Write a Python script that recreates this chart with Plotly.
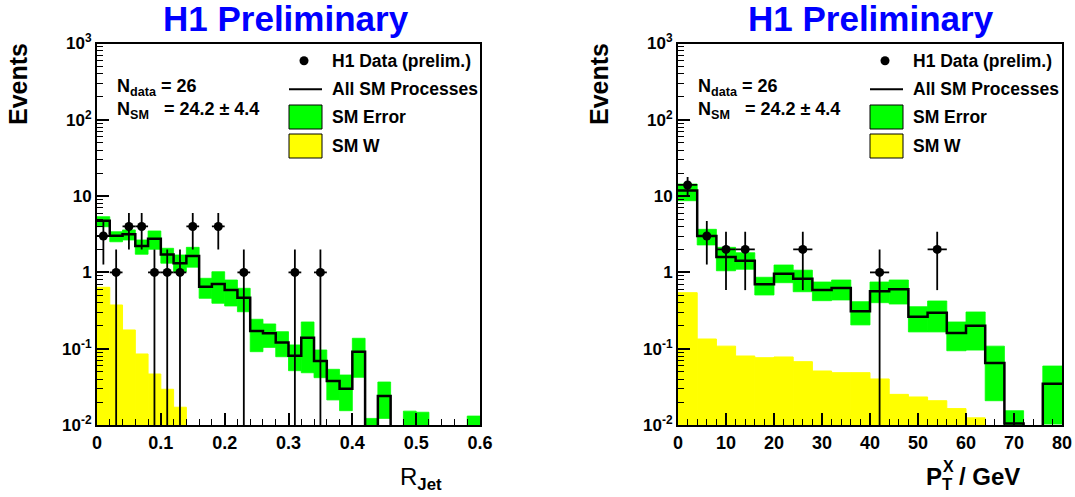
import math
import plotly.graph_objects as go

W, H = 1075, 497
FLOOR = 1e-4
FONT = "Liberation Sans"

# ---------------- Left panel: R_Jet ----------------
rjet_bin_width = 0.02
rjet_nbins = 30
rjet_sm = [4.76, 3.03, 3.16, 2.22, 2.77, 1.71, 1.32, 1.64, 0.65, 0.705,
           0.588, 0.466, 0.171, 0.159, 0.121, 0.081, 0.139, 0.069, 0.0378, 0.0299,
           0.0914, 0.004, 0.024, 0, 0.004, 0.004, 0, 0, 0, 0.004]
rjet_err_lo = [3.97, 2.52, 2.66, 1.73, 2.01, 1.32, 1.02, 1.17, 0.458, 0.394,
               0.363, 0.305, 0.0914, 0.104, 0.0785, 0.0515, 0.0484, 0.0417, 0.0213, 0.0154,
               0.0422, 0, 0.0122, 0, 0, 0, 0, 0, 0, 0]
rjet_err_hi = [5.37, 3.41, 3.6, 2.66, 3.49, 2.07, 1.69, 2.13, 0.837, 1.02,
               0.795, 0.619, 0.243, 0.211, 0.167, 0.112, 0.224, 0.0962, 0.0537, 0.0452,
               0.137, 0.0122, 0.0366, 0, 0.0152, 0.0147, 0, 0, 0, 0.0131]
rjet_w = [0.638, 0.374, 0.176, 0.0853, 0.0466, 0.0294, 0.0171, 0, 0, 0,
          0, 0, 0, 0, 0, 0, 0, 0, 0, 0,
          0, 0, 0, 0, 0, 0, 0, 0, 0, 0]
rjet_data_x = [0.01, 0.03, 0.05, 0.07, 0.09, 0.11, 0.13, 0.15, 0.19, 0.23, 0.31, 0.35]
rjet_data_n = [3, 1, 4, 4, 1, 1, 1, 4, 4, 1, 1, 1]
rjet_ticks = [0, 0.1, 0.2, 0.3, 0.4, 0.5, 0.6]

# ---------------- Right panel: PT^X ----------------
pt_bin_width = 4
pt_nbins = 20
pt_sm = [11.8, 3.0, 1.59, 1.42, 0.698, 0.962, 0.827, 0.588, 0.625, 0.309,
         0.565, 0.6, 0.262, 0.296, 0.161, 0.2, 0.065, 0.0105, 0, 0.0348]
pt_err_lo = [8.7, 2.29, 1.05, 1.1, 0.506, 0.733, 0.558, 0.426, 0.435, 0.205,
             0.401, 0.385, 0.166, 0.166, 0.094, 0.096, 0.0208, 0, 0, 0.0103]
pt_err_hi = [14.4, 3.67, 2.13, 1.81, 0.863, 1.25, 1.07, 0.748, 0.795, 0.413,
             0.748, 0.795, 0.355, 0.422, 0.224, 0.303, 0.108, 0.0154, 0, 0.0593]
pt_w = [0.542, 0.134, 0.108, 0.0802, 0.0762, 0.0779, 0.0676, 0.051, 0.0485, 0.0485,
        0.0401, 0.0252, 0.0233, 0.0208, 0.0164, 0.0124, 0, 0, 0, 0]
pt_data_x = [2, 6, 10, 14, 26, 42, 54]
pt_data_n = [14, 3, 2, 2, 2, 1, 2]
pt_ticks = [0, 10, 20, 30, 40, 50, 60, 70, 80]

y_tickvals = [0.01, 0.1, 1, 10, 100, 1000]
y_ticktext = ["10<sup>-2</sup>", "10<sup>-1</sup>", "1", "10", "10<sup>2</sup>", "10<sup>3</sup>"]
y_minor = [m * 10.0 ** e for e in range(-2, 3) for m in range(2, 10)]

title_text = "H1 Preliminary"
legend_labels = ["H1 Data (prelim.)", "All SM Processes", "SM Error", "SM W"]
ndata_text = "N<sub>data</sub> = 26"
nsm_text = "N<sub>SM</sub>\u00a0\u00a0\u00a0= 24.2 \u00b1 4.4"


def px(x):
    return x / W


def py(y):
    return 1 - y / H


fig = go.Figure()


def add_panel(xa, ya, nbins, bw, sm, lo, hi, wv, dx, dn):
    edges = [round(i * bw, 6) for i in range(nbins + 1)]
    centers = [(edges[i] + edges[i + 1]) / 2 for i in range(nbins)]
    # SM W (yellow)
    yx = [c for c, v in zip(centers, wv) if v > 0]
    yv = [v for v in wv if v > 0]
    fig.add_trace(go.Bar(x=yx, y=[v - 1e-3 for v in yv], base=[1e-3] * len(yv), width=bw,
                         marker=dict(color="#ffff00", line=dict(width=1, color="#ffff00")),
                         xaxis=xa, yaxis=ya, showlegend=False, hoverinfo="skip"))
    # SM error band (green)
    gx, gb, gy = [], [], []
    for c, l, h in zip(centers, lo, hi):
        if h > 0:
            b = max(l, 1e-3)
            gx.append(c)
            gb.append(b)
            gy.append(h - b)
    fig.add_trace(go.Bar(x=gx, y=gy, base=gb, width=bw,
                         marker=dict(color="#00ff00", line=dict(width=0.8, color="#00ff00")),
                         xaxis=xa, yaxis=ya, showlegend=False, hoverinfo="skip"))
    # All SM line
    ys = [v if v > 0 else FLOOR for v in sm]
    fig.add_trace(go.Scatter(x=edges, y=ys + [ys[-1]], mode="lines",
                             line=dict(color="black", width=2.5, shape="hv"),
                             xaxis=xa, yaxis=ya, showlegend=False, hoverinfo="skip"))
    # Data
    eu = [math.sqrt(n) for n in dn]
    ed = [min(math.sqrt(n), n - FLOOR) for n in dn]
    fig.add_trace(go.Scatter(x=dx, y=dn, mode="markers",
                             marker=dict(color="black", size=9),
                             error_y=dict(type="data", symmetric=False, array=eu, arrayminus=ed,
                                          color="black", thickness=1.8, width=0),
                             error_x=dict(type="constant", value=bw / 2, color="black",
                                          thickness=1.8, width=0),
                             xaxis=xa, yaxis=ya, showlegend=False))


add_panel("x", "y", rjet_nbins, rjet_bin_width, rjet_sm, rjet_err_lo, rjet_err_hi,
          rjet_w, rjet_data_x, rjet_data_n)
add_panel("x2", "y2", pt_nbins, pt_bin_width, pt_sm, pt_err_lo, pt_err_hi,
          pt_w, pt_data_x, pt_data_n)

common = dict(showline=True, linecolor="black", linewidth=2, mirror=True,
              ticks="inside", ticklen=12, tickwidth=1.5, tickcolor="black",
              showgrid=False, zeroline=False, automargin=False)
xfont = dict(family=FONT, size=18, color="black", weight="bold")
yfont = dict(family=FONT, size=17, color="black", weight="bold")

ydom = [py(425), py(43.5)]
fig.update_layout(
    width=W, height=H, margin=dict(l=0, r=0, t=0, b=0, pad=0, autoexpand=False),
    paper_bgcolor="white", plot_bgcolor="white", barmode="overlay",
    showlegend=False,
    xaxis=dict(domain=[px(97), px(480)], range=[0, 0.6], anchor="y",
               tickmode="array", tickvals=rjet_ticks, tickfont=xfont,
               minor=dict(tickmode="linear", tick0=0, dtick=0.02, ticks="inside",
                          ticklen=6, tickcolor="black", tickwidth=1.2), **common),
    yaxis=dict(domain=ydom, type="log", range=[-2, 3], anchor="x",
               tickmode="array", tickvals=y_tickvals, ticktext=y_ticktext, tickfont=yfont,
               minor=dict(tickmode="array", tickvals=y_minor, ticks="inside",
                          ticklen=6, tickcolor="black", tickwidth=1.2), **common),
    xaxis2=dict(domain=[px(678), px(1062)], range=[0, 80], anchor="y2",
                tickmode="array", tickvals=pt_ticks, tickfont=xfont,
                minor=dict(tickmode="linear", tick0=0, dtick=2, ticks="inside",
                           ticklen=6, tickcolor="black", tickwidth=1.2), **common),
    yaxis2=dict(domain=ydom, type="log", range=[-2, 3], anchor="x2",
                tickmode="array", tickvals=y_tickvals, ticktext=y_ticktext, tickfont=yfont,
                minor=dict(tickmode="array", tickvals=y_minor, ticks="inside",
                           ticklen=6, tickcolor="black", tickwidth=1.2), **common),
)

annotations = []
shapes = []


def ann(x, y, text, size, xanchor="left", yanchor="middle", bold=True, color="black", angle=0):
    annotations.append(dict(xref="paper", yref="paper", x=px(x), y=py(y), text=text,
                            showarrow=False, xanchor=xanchor, yanchor=yanchor, textangle=angle,
                            font=dict(family=FONT, size=size, color=color,
                                      weight="bold" if bold else "normal")))


for ox in (0, 581):
    # titles
    ann(286 + ox * 1.007, 18, title_text, 35, xanchor="center", color="#0000ff")
    # y title
    ann(18 + ox, 84, "Events", 25, xanchor="center", angle=-90)
    # N text
    ann(115 + ox, 87, ndata_text, 18)
    ann(115 + ox, 110, nsm_text, 18)
    # legend
    shapes.append(dict(type="circle", xref="paper", yref="paper",
                       x0=px(299.5 + ox), x1=px(308.5 + ox), y0=py(65.2), y1=py(56.2),
                       fillcolor="black", line=dict(width=0)))
    shapes.append(dict(type="line", xref="paper", yref="paper",
                       x0=px(289 + ox), x1=px(322 + ox), y0=py(89.3), y1=py(89.3),
                       line=dict(color="black", width=2)))
    shapes.append(dict(type="rect", xref="paper", yref="paper",
                       x0=px(289 + ox), x1=px(322 + ox), y0=py(129), y1=py(105),
                       fillcolor="#00ff00", line=dict(color="black", width=1)))
    shapes.append(dict(type="rect", xref="paper", yref="paper",
                       x0=px(289 + ox), x1=px(322 + ox), y0=py(158), y1=py(134),
                       fillcolor="#ffff00", line=dict(color="black", width=1)))
    for lab, yy in zip(legend_labels, [60.7, 89.3, 117, 146]):
        ann(330 + ox, yy, lab, 17.5)

# x titles
ann(398, 478, "R<sub><b>Jet</b></sub>", 24, bold=False)
ann(924, 478, "P<sub>T</sub> / GeV", 24)
ann(941, 466, "X", 16)

fig.update_layout(annotations=annotations, shapes=shapes)
fig.write_html("out.html")
